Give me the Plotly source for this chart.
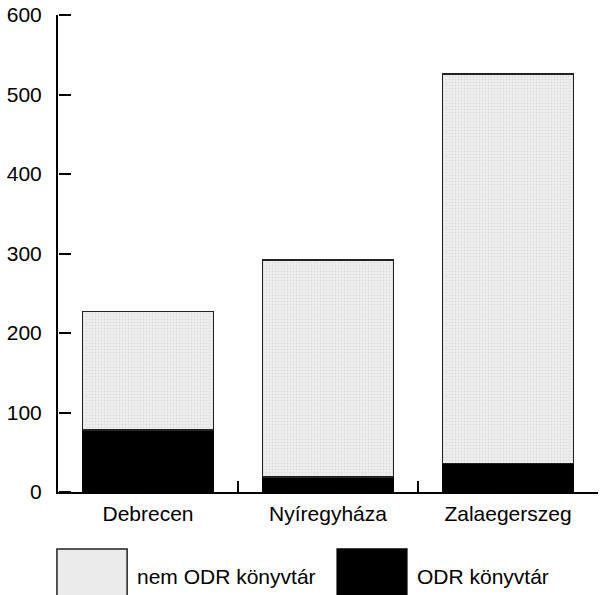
import plotly.graph_objects as go

categories = ["Debrecen", "Nyíregyháza", "Zalaegerszeg"]
odr_values = [78, 19, 36]
nem_odr_values = [149, 273, 490]
series_names = ["nem ODR könyvtár", "ODR könyvtár"]
y_ticks = [0, 100, 200, 300, 400, 500, 600]

FONT = dict(family="Liberation Sans, Arial, sans-serif", size=21, color="black")

fig = go.Figure()
fig.add_trace(go.Bar(
    x=categories, y=odr_values, name=series_names[1],
    marker=dict(color="black", line=dict(color="black", width=1.5)),
    width=0.73,
))
fig.add_trace(go.Bar(
    x=categories, y=nem_odr_values, name=series_names[0],
    marker=dict(color="#ececec", line=dict(color="#222222", width=1.5),
                pattern=dict(shape=".", fgcolor="#c8c8c8", bgcolor="#efefef",
                             size=3, solidity=0.3)),
    width=0.73,
))
# empty helper trace so the tick-only overlay axis is drawn
fig.add_trace(go.Scatter(x=[], y=[], yaxis="y2", showlegend=False, hoverinfo="skip"))

fig.update_layout(
    barmode="stack",
    width=609, height=595,
    margin=dict(l=58, r=11, t=15, b=103, autoexpand=False),
    paper_bgcolor="white", plot_bgcolor="white",
    showlegend=False,
    font=FONT,
    yaxis2=dict(
        overlaying="y", side="right", anchor="free", position=0,
        range=[0, 600], tickmode="array", tickvals=y_ticks,
        ticks="outside", ticklen=12, tickwidth=2, tickcolor="black",
        showticklabels=False, showline=False, showgrid=False, zeroline=False,
        automargin=False,
    ),
)
fig.update_xaxes(
    range=[-0.5, 2.5], showline=True, linecolor="black", linewidth=2,
    ticks="inside", tickson="boundaries", ticklen=11, tickwidth=2, tickcolor="black",
    showgrid=False, zeroline=False, tickfont=FONT, ticklabelstandoff=2,
    automargin=False,
)
fig.update_yaxes(
    selector=dict(overlaying=None),
    range=[0, 600], tickmode="array", tickvals=y_ticks, showline=True,
    linecolor="black", linewidth=2, ticks="",
    showgrid=False, zeroline=False, tickfont=FONT, ticklabelstandoff=10,
    automargin=False,
)

# custom legend (large swatches below the chart)
fig.add_shape(type="rect", xref="paper", yref="paper",
              x0=-0.002, x1=0.128, y0=-0.24, y1=-0.1195,
              fillcolor="#ebebeb", line=dict(color="#222222", width=1.5))
fig.add_shape(type="rect", xref="paper", yref="paper",
              x0=0.517, x1=0.646, y0=-0.24, y1=-0.1195,
              fillcolor="black", line=dict(color="black", width=1.5))
fig.add_annotation(xref="paper", yref="paper", x=0.1426, y=-0.178,
                   text=series_names[0], showarrow=False, xanchor="left",
                   yanchor="middle", font=FONT)
fig.add_annotation(xref="paper", yref="paper", x=0.661, y=-0.178,
                   text=series_names[1], showarrow=False, xanchor="left",
                   yanchor="middle", font=FONT)

fig.write_html("out.html", config={"displayModeBar": False},
               post_script="document.body.style.margin='0';")
